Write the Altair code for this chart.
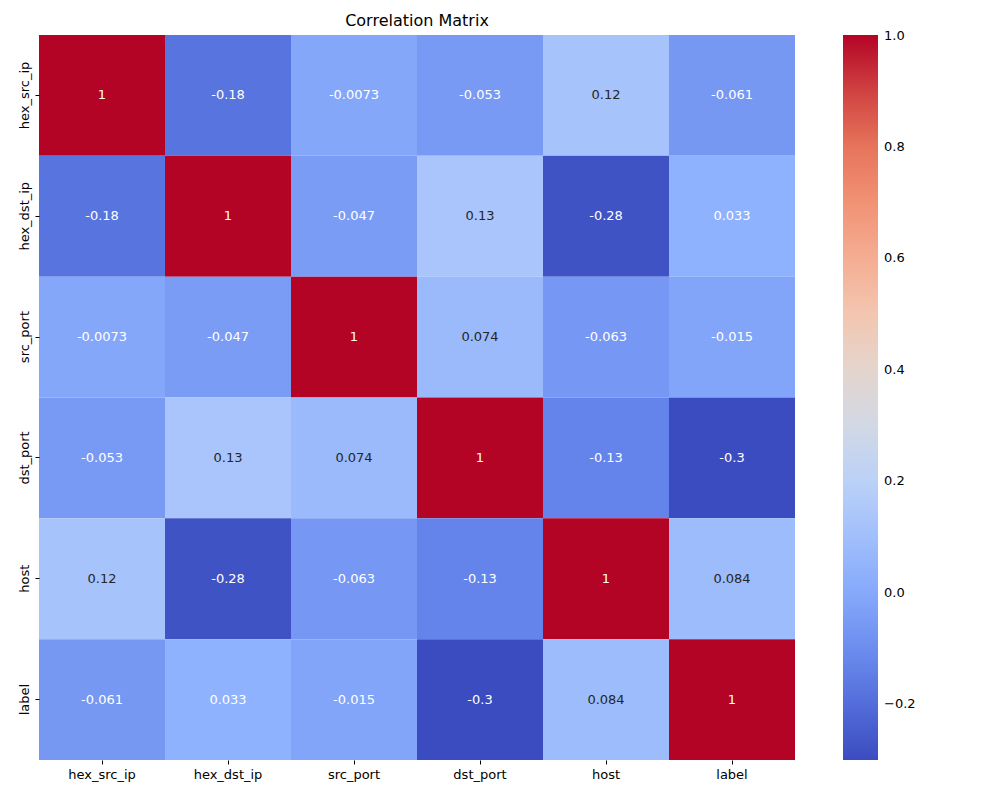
import altair as alt
import pandas as pd

features = ["hex_src_ip", "hex_dst_ip", "src_port", "dst_port", "host", "label"]
corr_rows = [
    [1, -0.18, -0.0073, -0.053, 0.12, -0.061],
    [-0.18, 1, -0.047, 0.13, -0.28, 0.033],
    [-0.0073, -0.047, 1, 0.074, -0.063, -0.015],
    [-0.053, 0.13, 0.074, 1, -0.13, -0.3],
    [0.12, -0.28, -0.063, -0.13, 1, 0.084],
    [-0.061, 0.033, -0.015, -0.3, 0.084, 1],
]
legend_ticks = [-0.2, 0.0, 0.2, 0.4, 0.6, 0.8, 0.999]

records = []
for i, r in enumerate(features):
    for j, c in enumerate(features):
        v = corr_rows[i][j]
        records.append({"row": r, "col": c, "value": v, "label_text": f"{v:g}"})
df = pd.DataFrame(records)

vmin, vmax = -0.3, 1.0
cool_warm = ['#3b4cc0', '#6282ea', '#8db0fe', '#b8d0f9', '#dddcdc',
             '#f5c4ac', '#f49a7b', '#e26952', '#b40426']
n = len(cool_warm)
domain = [vmin + (vmax - vmin) * k / (n - 1) for k in range(n)]

font = "DejaVu Sans"

base = alt.Chart(df).encode(
    x=alt.X("col:N", sort=features, title=None,
            axis=alt.Axis(labelAngle=0, domain=False, tickSize=4, labelFontSize=13,
                          labelFont=font, labelColor="#000", tickColor="#000", labelPadding=4)),
    y=alt.Y("row:N", sort=features, title=None,
            axis=alt.Axis(labelAngle=-90, domain=False, tickSize=4, labelFontSize=13,
                          labelFont=font, labelColor="#000", tickColor="#000",
                          labelAlign="center", labelBaseline="bottom", labelPadding=4)),
)

heat = base.mark_rect().encode(
    color=alt.Color("value:Q",
                    scale=alt.Scale(domain=domain, range=cool_warm, interpolate="rgb"),
                    legend=alt.Legend(title=None, gradientLength=725, gradientThickness=35,
                                      values=legend_ticks, labelFontSize=13, labelFont=font,
                                      labelColor="#000", gradientStrokeWidth=0,
                                      offset=48, format=".1f", direction="vertical",
                                      labelOffset=6, labelBaseline="middle")),
)

text = base.mark_text(fontSize=13, font=font).encode(
    text="label_text:N",
    color=alt.condition("datum.value > 0.06 && datum.value < 0.6",
                        alt.value("#262626"), alt.value("white")),
)

chart = (heat + text).properties(
    width=756, height=725,
    title=alt.TitleParams("Correlation Matrix", fontSize=16, font=font,
                          fontWeight="normal", color="#000", offset=6),
    padding={"left": 9, "top": 5, "right": 5, "bottom": 5},
).configure_view(stroke=None).configure_scale(bandPaddingInner=0, bandPaddingOuter=0)

chart.save("out.html", embed_options={"renderer": "svg", "actions": False})
